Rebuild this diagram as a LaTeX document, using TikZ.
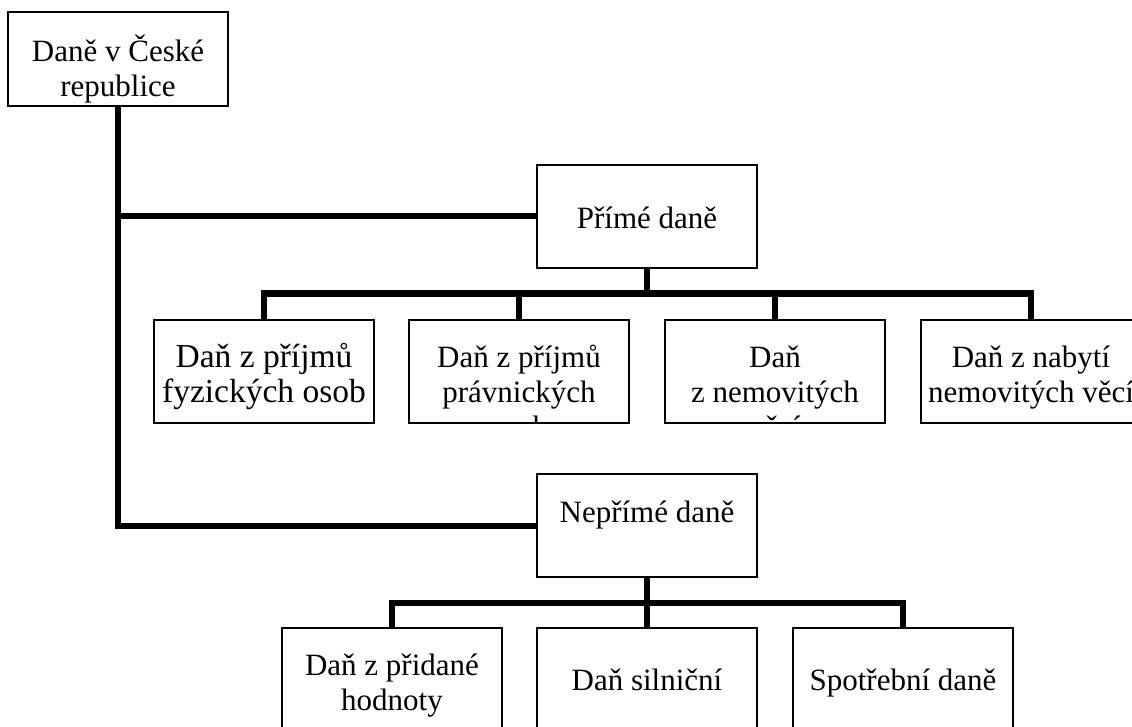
\documentclass[tikz,border=0pt]{standalone}
\usepackage{fontspec}
\setmainfont{Liberation Serif}
\tikzset{
  box/.style={draw, line width=1.6pt, minimum width=220pt, inner sep=0pt, fill=white},
  tall/.style={minimum height=103pt},
  txt/.style={anchor=north, align=center, inner sep=0pt, font=\fontsize{31}{35}\selectfont},
  bigtxt/.style={txt, font=\fontsize{33.5}{35}\selectfont},
  conn/.style={line width=6pt, line join=miter}
}
\begin{document}
\begin{tikzpicture}[x=1pt,y=-1pt]
\useasboundingbox (0,0) rectangle (1132,727);
\clip (0,0) rectangle (1132,727);
% boxes
\node[box, minimum height=94pt] (top) at (118,59) {};
\node[box, tall] (pri) at (647,216.5) {};
\node[box, tall] (nep) at (647,525.5) {};
\node[box, tall] (p1) at (264,371.5) {};
\node[box, tall] (p2) at (519,371.5) {};
\node[box, tall] (p3) at (775,371.5) {};
\node[box, tall] (p4) at (1031,371.5) {};
\node[box, tall] (n1) at (392,679.5) {};
\node[box, tall] (n2) at (647,679.5) {};
\node[box, tall] (n3) at (903,679.5) {};
% texts
\node[txt] (ttop) at (118,34.5) {\strut Daně v České\\republice};
\node[txt] (tpri) at (647,203.5) {\strut Přímé daně};
\node[txt] (tnep) at (647,497.5) {\strut Nepřímé daně};
\node[bigtxt] (tp1) at (264,342.5) {\strut Daň z příjmů\\fyzických osob};
\begin{scope}
\clip (p2.south west) rectangle (p2.north east);
\node[txt] (tp2) at (519,342.5) {\strut Daň z příjmů\\právnických\\osob};
\end{scope}
\begin{scope}
\clip (p3.south west) rectangle (p3.north east);
\node[txt] (tp3) at (775,342.5) {\strut Daň\\z nemovitých\\věcí};
\end{scope}
\node[txt] (tp4) at (1031,342.5) {\strut Daň z nabytí\\nemovitých věcí};
\node[txt] (tn1) at (392,650.5) {\strut Daň z přidané\\hodnoty};
\node[txt] (tn2) at (647,665.5) {\strut Daň silniční};
\node[txt] (tn3) at (903,665.5) {\strut Spotřební daně};
% connectors
\coordinate (bus1) at (647,293.5);
\coordinate (bus2) at (647,602.5);
\draw[conn] (top.south) |- (nep.west);
\draw[conn] (top.south |- pri.west) -- (pri.west);
\draw[conn] (pri.south) -- (bus1);
\draw[conn] (p1.north) |- (bus1) -| (p4.north);
\draw[conn] (p2.north) -- (p2.north |- bus1);
\draw[conn] (p3.north) -- (p3.north |- bus1);
\draw[conn] (nep.south) -- (bus2);
\draw[conn] (n1.north) |- (bus2) -| (n3.north);
\draw[conn] (n2.north) -- (n2.north |- bus2);
\end{tikzpicture}
\end{document}
